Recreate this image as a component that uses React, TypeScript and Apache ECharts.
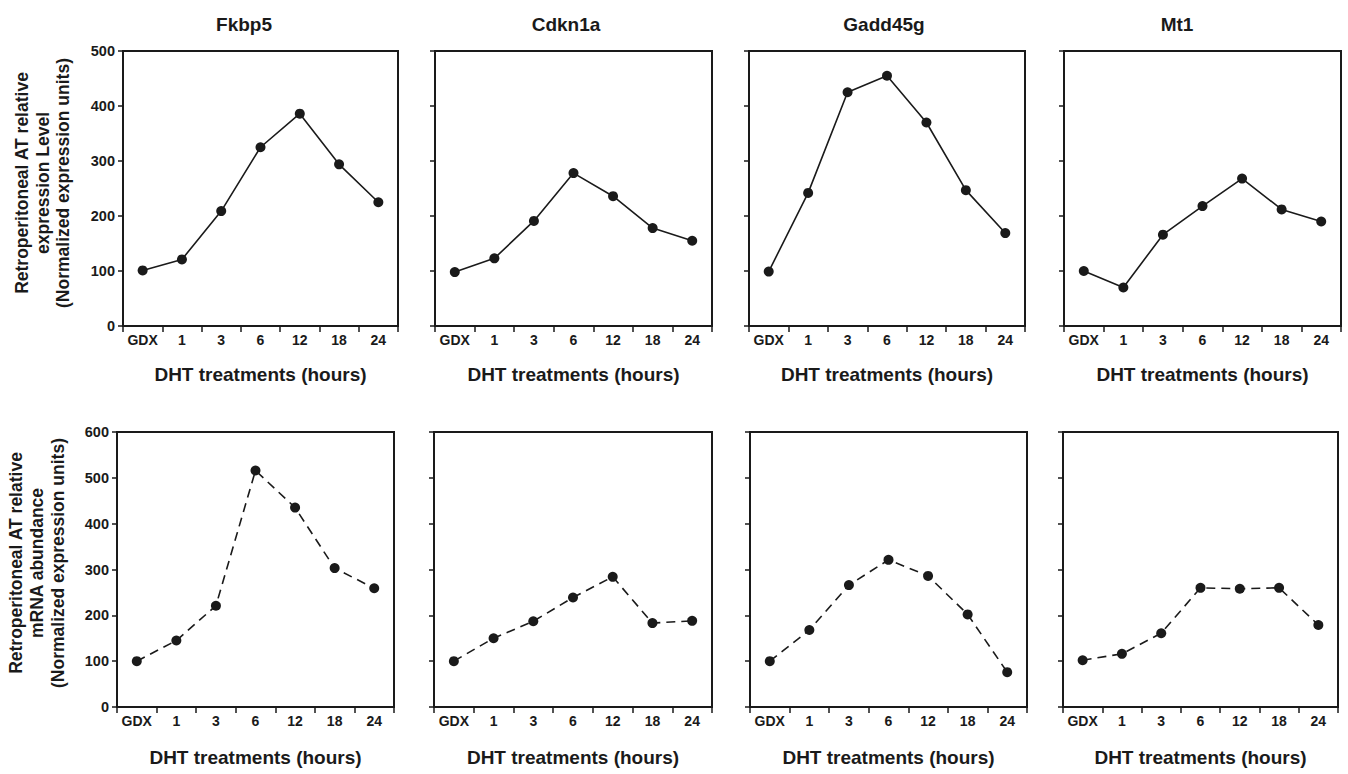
import React, { useEffect, useRef } from "react";
import * as echarts from "echarts";

const categories = ["GDX", "1", "3", "6", "12", "18", "24"];
const genes = ["Fkbp5", "Cdkn1a", "Gadd45g", "Mt1"];

const fkbp5Level = [101, 121, 209, 325, 386, 294, 225];
const cdkn1aLevel = [98, 123, 191, 278, 236, 178, 155];
const gadd45gLevel = [99, 242, 425, 455, 370, 247, 169];
const mt1Level = [100, 70, 166, 218, 268, 212, 190];

const fkbp5Mrna = [100, 145, 221, 516, 435, 303, 259];
const cdkn1aMrna = [100, 150, 187, 239, 284, 183, 188];
const gadd45gMrna = [100, 168, 266, 321, 286, 202, 76];
const mt1Mrna = [102, 116, 161, 260, 258, 260, 179];

const levelMax = 500;
const mrnaMax = 600;
const yInterval = 100;
const xAxisTitle = "DHT treatments (hours)";
const levelYTitle = ["Retroperitoneal AT relative", "expression Level", "(Normalized expression units)"];
const mrnaYTitle = ["Retroperitoneal AT relative", "mRNA abundance", "(Normalized expression units)"];

const FONT = "'Liberation Sans', Arial, sans-serif";
const INK = "#1a1a1a";

export default function App() {
  const ref = useRef<HTMLDivElement>(null);
  useEffect(() => {
    if (!ref.current) return;
    const chart = echarts.init(ref.current, null, { renderer: "svg" });

    const topGrids = [
      { left: 123, width: 275 },
      { left: 435, width: 277 },
      { left: 749, width: 276 },
      { left: 1064, width: 277 },
    ];
    const botGrids = [
      { left: 117, width: 277 },
      { left: 434, width: 278 },
      { left: 750, width: 277 },
      { left: 1063, width: 275 },
    ];
    const titleCenters = [244, 566, 884, 1177];
    const levelData = [fkbp5Level, cdkn1aLevel, gadd45gLevel, mt1Level];
    const mrnaData = [fkbp5Mrna, cdkn1aMrna, gadd45gMrna, mt1Mrna];

    const grid: any[] = [];
    const xAxis: any[] = [];
    const yAxis: any[] = [];
    const series: any[] = [];

    const addPanel = (g: { left: number; width: number }, top: number, max: number, data: number[], showY: boolean, dashed: boolean, nameGap: number) => {
      const idx = grid.length;
      grid.push({
        left: g.left,
        top,
        width: g.width,
        height: 275,
        show: true,
        borderColor: INK,
        borderWidth: 2,
        backgroundColor: "transparent",
      });
      xAxis.push({
        type: "category",
        gridIndex: idx,
        data: categories,
        boundaryGap: true,
        name: xAxisTitle,
        nameLocation: "middle",
        nameGap,
        nameTextStyle: { fontFamily: FONT, fontWeight: "bold", fontSize: 19, color: INK },
        axisLine: { show: true, lineStyle: { color: INK, width: 2 } },
        axisTick: { show: true, length: 6, lineStyle: { color: INK, width: 1.5 } },
        axisLabel: { show: true, interval: 0, margin: 7, fontFamily: FONT, fontWeight: "bold", fontSize: 14, color: INK },
        splitLine: { show: false },
      });
      yAxis.push({
        type: "value",
        gridIndex: idx,
        min: 0,
        max,
        interval: yInterval,
        axisLine: { show: true, lineStyle: { color: INK, width: 2 } },
        axisTick: { show: true, length: 5, lineStyle: { color: INK, width: 1.5 } },
        axisLabel: { show: showY, margin: 8, fontFamily: FONT, fontWeight: "bold", fontSize: 14.5, color: INK },
        splitLine: { show: false },
      });
      series.push({
        type: "line",
        xAxisIndex: idx,
        yAxisIndex: idx,
        data,
        symbol: "circle",
        symbolSize: 10,
        itemStyle: { color: INK },
        lineStyle: { color: INK, width: 1.6, type: dashed ? [9, 6] : "solid" },
        clip: false,
      });
    };

    topGrids.forEach((g, i) => addPanel(g, 51, levelMax, levelData[i], i === 0, false, 39));
    botGrids.forEach((g, i) => addPanel(g, 432, mrnaMax, mrnaData[i], i === 0, true, 41));

    const graphic: any[] = [];
    genes.forEach((name, i) => {
      graphic.push({
        type: "text",
        x: titleCenters[i],
        y: 24,
        style: {
          text: name,
          fontFamily: FONT,
          fontWeight: "bold",
          fontSize: 19,
          fill: INK,
          textAlign: "center",
          textVerticalAlign: "middle",
        },
      });
    });
    const addYTitle = (lines: string[], xs: number[], cy: number) => {
      lines.forEach((t, i) => {
        graphic.push({
          type: "text",
          x: xs[i],
          y: cy,
          rotation: Math.PI / 2,
          style: {
            text: t,
            fontFamily: FONT,
            fontWeight: "bold",
            fontSize: 17.5,
            fill: INK,
            textAlign: "center",
            textVerticalAlign: "middle",
          },
        });
      });
    };
    addYTitle(levelYTitle, [22, 42.5, 63], 183);
    addYTitle(mrnaYTitle, [16, 37, 58], 563);

    chart.setOption({
      animation: false,
      backgroundColor: "#ffffff",
      grid,
      xAxis,
      yAxis,
      series,
      graphic,
    });
    return () => chart.dispose();
  }, []);

  return (
    <div
      ref={ref}
      style={{ position: "absolute", left: 0, top: 0, width: 1348, height: 774, background: "#fff" }}
    />
  );
}
